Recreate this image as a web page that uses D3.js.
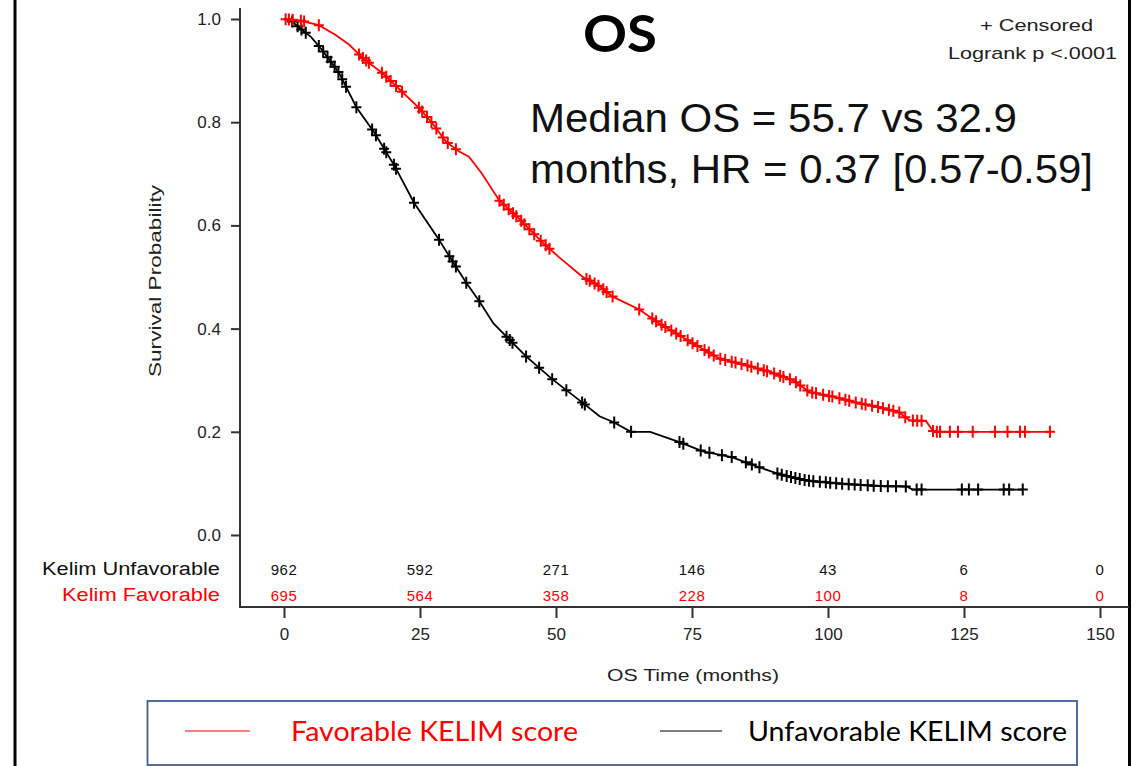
<!DOCTYPE html>
<html>
<head>
<meta charset="utf-8">
<script src="https://cdn.jsdelivr.net/npm/d3@7"></script>
<style>
  html, body { margin: 0; padding: 0; background: #ffffff; }
  svg { display: block; }
</style>
</head>
<body>
<svg id="chart" width="1142" height="766"></svg>
<script>
// ---------- DATA ----------
const xTicks = [0, 25, 50, 75, 100, 125, 150];
const yTicks = [0, 0.2, 0.4, 0.6, 0.8, 1.0];

const riskGroups = ["Kelim Unfavorable", "Kelim Favorable"];
const riskUnfavorable = [962, 592, 271, 146, 43, 6, 0];
const riskFavorable = [695, 564, 358, 228, 100, 8, 0];

// Kaplan-Meier curves: [months, survival]
const favorableCurve = [
  [0, 1.0], [3, 0.997], [6.4, 0.988], [9.5, 0.969], [12, 0.95], [14.4, 0.925],
  [18, 0.896], [21.7, 0.859], [24.8, 0.828], [27.2, 0.799], [29.8, 0.762],
  [32.2, 0.743], [34, 0.733], [36.4, 0.70], [39.6, 0.648], [43.3, 0.612],
  [47.5, 0.567], [50.6, 0.538], [54.8, 0.501], [58, 0.482], [60.4, 0.462],
  [65.3, 0.437], [69, 0.41], [74.9, 0.373], [80, 0.342], [85.3, 0.328],
  [89.6, 0.315], [93.7, 0.299], [96.6, 0.277], [100.9, 0.268], [105.8, 0.255],
  [109.3, 0.248], [113, 0.238], [115, 0.222], [118, 0.221], [119.4, 0.2], [141, 0.2]
];
const unfavorableCurve = [
  [0, 1.0], [1.5, 0.995], [2.8, 0.983], [5, 0.965], [7, 0.94], [10.1, 0.896],
  [13.3, 0.829], [16.6, 0.78], [20.4, 0.714], [23.9, 0.644], [28.5, 0.572],
  [30.4, 0.54], [33.5, 0.489], [35.9, 0.453], [38.5, 0.41], [41.4, 0.379],
  [44.5, 0.346], [49.3, 0.302], [54.8, 0.257], [58, 0.23], [60.5, 0.219],
  [63.8, 0.2], [67.3, 0.2], [72.7, 0.18], [77, 0.162], [82.3, 0.151],
  [86.9, 0.133], [91.3, 0.117], [96.4, 0.105], [102.9, 0.099], [109.3, 0.095],
  [114.5, 0.094], [115.5, 0.088], [135.8, 0.088]
];

// Censoring times (months) read from the "+" marks
const favorableCensored = [
  0.3, 0.9, 1.6, 3.1, 3.7, 6.4, 13.8, 14.5, 15.1, 15.6, 18, 18.8, 19.6, 20.6, 21.7,
  24.8, 25.4, 26.3, 27.1, 28, 29.2, 30.1, 31.6, 39.6, 40.4, 41.3, 42.1, 42.7, 43.6,
  44.2, 45.1, 46, 47.2, 48.1, 48.8, 55.6, 56.2, 57.1, 57.8, 58.7, 59.3, 60.4, 65.3,
  67.7, 68.4, 69.4, 70.1, 71.2, 72.1, 72.9, 74.2, 75.1, 76, 77.3, 78.1, 79, 80.2,
  81.1, 82.3, 83, 84.1, 85.2, 85.9, 87.1, 88.2, 88.8, 90.1, 91.2, 91.8, 93, 94.1,
  94.9, 96.2, 97.1, 97.8, 99.1, 100.2, 100.8, 102.1, 103.2, 103.9, 105.1, 106.2,
  106.9, 108.1, 109.2, 110.1, 111.2, 112, 113.1, 114.2, 115.6, 116.4, 117.2,
  119.3, 120, 120.6, 122.4, 123.9, 126.6, 130.7, 133, 135.3, 136.2, 140.8
];
const unfavorableCensored = [
  1.5, 2.5, 3.2, 4, 6.4, 7.2, 8, 8.6, 9.3, 10, 10.7, 11.4, 13.3, 16.2, 16.9, 18.4,
  18.8, 20.2, 20.6, 23.9, 28.5, 30.4, 31, 31.6, 33.5, 35.9, 40.9, 41.5, 42, 44.5,
  46.9, 49.3, 51.9, 54.8, 55.3, 60.7, 63.8, 72.7, 73.4, 76.6, 78.2, 80.5, 82.3,
  84.9, 86, 87.4, 90.7, 91.5, 92.4, 93.2, 94, 94.8, 95.7, 96.5, 97.3, 98.5, 99.6,
  100.4, 101.5, 102.6, 103.8, 104.9, 106, 107.3, 108.4, 109.7, 111, 112.5, 114.3,
  116.3, 117.2, 124.6, 125.9, 127.6, 132.3, 133.3, 135.8
];

const legendLabels = ["Favorable KELIM score", "Unfavorable KELIM score"];
const colorFav = "#ff0000";
const colorUnfav = "#000000";

// ---------- DRAW ----------
const svg = d3.select("#chart");
const axisFont = "'Liberation Sans', Arial, sans-serif";

svg.append("rect").attr("width", 1142).attr("height", 766).attr("fill", "#fff");

// Slide frame lines (left/right)
svg.append("line").attr("x1", 15).attr("x2", 15).attr("y1", 0).attr("y2", 766)
  .attr("stroke", "#000").attr("stroke-width", 3);
svg.append("line").attr("x1", 1129.5).attr("x2", 1129.5).attr("y1", 0).attr("y2", 766)
  .attr("stroke", "#000").attr("stroke-width", 3);

const x = d3.scaleLinear().domain([0, 150]).range([284, 1100]);
const y = d3.scaleLinear().domain([0, 1]).range([535, 19]);
const axisY = 607;
const axisX = 240;

// Y axis
const yAxis = d3.axisLeft(y).tickValues(yTicks).tickFormat(d3.format(".1f"))
  .tickSize(9).tickPadding(10);
const gy = svg.append("g").attr("transform", `translate(${axisX},0)`).call(yAxis);
gy.select(".domain").remove();
gy.selectAll(".tick line").attr("stroke", "#333").attr("stroke-width", 2);
gy.selectAll(".tick text").attr("font-family", axisFont).attr("font-size", 17)
  .attr("fill", "#222");
svg.append("line").attr("x1", axisX).attr("x2", axisX).attr("y1", 8).attr("y2", axisY)
  .attr("stroke", "#333").attr("stroke-width", 2);

// X axis
const xAxis = d3.axisBottom(x).tickValues(xTicks).tickFormat(d3.format("d"))
  .tickSize(11).tickPadding(10);
const gx = svg.append("g").attr("transform", `translate(0,${axisY})`).call(xAxis);
gx.select(".domain").remove();
gx.selectAll(".tick line").attr("stroke", "#333").attr("stroke-width", 2);
gx.selectAll(".tick text").attr("font-family", axisFont).attr("font-size", 17)
  .attr("fill", "#222");
svg.append("line").attr("x1", axisX - 1).attr("x2", 1129).attr("y1", axisY).attr("y2", axisY)
  .attr("stroke", "#333").attr("stroke-width", 2);

// Axis titles
svg.append("text").attr("x", 693).attr("y", 681).attr("text-anchor", "middle")
  .attr("font-family", axisFont).attr("font-size", 17).attr("fill", "#222")
  .attr("textLength", 172).attr("lengthAdjust", "spacingAndGlyphs")
  .text("OS Time (months)");
svg.append("text")
  .attr("transform", "translate(161,281) rotate(-90)")
  .attr("text-anchor", "middle")
  .attr("font-family", axisFont).attr("font-size", 17).attr("fill", "#222")
  .attr("textLength", 192).attr("lengthAdjust", "spacingAndGlyphs")
  .text("Survival Probability");

// Number at risk
const riskRows = [
  { label: riskGroups[0], values: riskUnfavorable, color: "#111", y: 575, len: 178 },
  { label: riskGroups[1], values: riskFavorable, color: colorFav, y: 601, len: 158 }
];
riskRows.forEach(r => {
  svg.append("text").attr("x", 220).attr("y", r.y).attr("text-anchor", "end")
    .attr("font-family", axisFont).attr("font-size", 18).attr("fill", r.color)
    .attr("textLength", r.len).attr("lengthAdjust", "spacingAndGlyphs")
    .text(r.label);
  svg.selectAll(null).data(r.values).enter().append("text")
    .attr("x", (d, i) => x(xTicks[i]))
    .attr("y", r.y)
    .attr("text-anchor", "middle")
    .attr("font-family", axisFont).attr("font-size", 15).attr("fill", r.color)
    .attr("letter-spacing", 0.5)
    .text(d => d);
});

// Curves
const line = d3.line().x(d => x(d[0])).y(d => y(d[1])).curve(d3.curveLinear);
function survAt(curve, t) {
  for (let i = 1; i < curve.length; i++) {
    if (t <= curve[i][0]) {
      const [t0, s0] = curve[i - 1], [t1, s1] = curve[i];
      return s0 + (s1 - s0) * (t - t0) / (t1 - t0);
    }
  }
  return curve[curve.length - 1][1];
}
const series = [
  { curve: unfavorableCurve, cens: unfavorableCensored, color: colorUnfav },
  { curve: favorableCurve, cens: favorableCensored, color: colorFav }
];
series.forEach(s => {
  svg.append("path").datum(s.curve).attr("d", line)
    .attr("fill", "none").attr("stroke", s.color).attr("stroke-width", 1.8);
  svg.append("g").selectAll("path").data(s.cens).enter().append("path")
    .attr("transform", d => `translate(${x(d)},${y(survAt(s.curve, d))})`)
    .attr("d", "M-5,0H5M0,-6V6")
    .attr("stroke", s.color).attr("stroke-width", 2).attr("fill", "none");
});

// Title
svg.append("text").attr("x", 620).attr("y", 52).attr("text-anchor", "middle")
  .attr("font-family", "Lato, 'Open Sans', sans-serif").attr("font-weight", 700)
  .attr("font-size", 51).attr("fill", "#000")
  .attr("textLength", 74).attr("lengthAdjust", "spacingAndGlyphs")
  .text("OS");

// Top-right annotations
svg.append("text").attr("x", 1093).attr("y", 31).attr("text-anchor", "end")
  .attr("font-family", axisFont).attr("font-size", 17).attr("fill", "#222")
  .attr("textLength", 113).attr("lengthAdjust", "spacingAndGlyphs")
  .text("+ Censored");
svg.append("text").attr("x", 1117).attr("y", 59).attr("text-anchor", "end")
  .attr("font-family", axisFont).attr("font-size", 17).attr("fill", "#222")
  .attr("textLength", 169).attr("lengthAdjust", "spacingAndGlyphs")
  .text("Logrank p <.0001");

// Median annotation
svg.append("text").attr("x", 530).attr("y", 132)
  .attr("font-family", axisFont).attr("font-size", 40).attr("fill", "#111")
  .attr("textLength", 487).attr("lengthAdjust", "spacingAndGlyphs")
  .text("Median OS = 55.7 vs 32.9");
svg.append("text").attr("x", 530).attr("y", 183)
  .attr("font-family", axisFont).attr("font-size", 40).attr("fill", "#111")
  .attr("textLength", 563).attr("lengthAdjust", "spacingAndGlyphs")
  .text("months, HR = 0.37 [0.57-0.59]");

// Bottom legend box
svg.append("rect").attr("x", 147.5).attr("y", 701).attr("width", 929.5).attr("height", 64)
  .attr("fill", "none").attr("stroke", "#3f5e96").attr("stroke-width", 1.8);
const legendItems = [
  { label: legendLabels[0], color: colorFav, x1: 185, x2: 250, tx: 291, len: 287 },
  { label: legendLabels[1], color: colorUnfav, x1: 660, x2: 722, tx: 748, len: 319 }
];
legendItems.forEach(l => {
  svg.append("line").attr("x1", l.x1).attr("x2", l.x2).attr("y1", 731).attr("y2", 731)
    .attr("stroke", l.color).attr("stroke-width", 1.2);
  svg.append("text").attr("x", l.tx).attr("y", 741)
    .attr("font-family", "Lato, 'Open Sans', sans-serif").attr("font-size", 27)
    .attr("fill", l.color)
    .attr("textLength", l.len).attr("lengthAdjust", "spacingAndGlyphs")
    .text(l.label);
});
</script>
</body>
</html>
